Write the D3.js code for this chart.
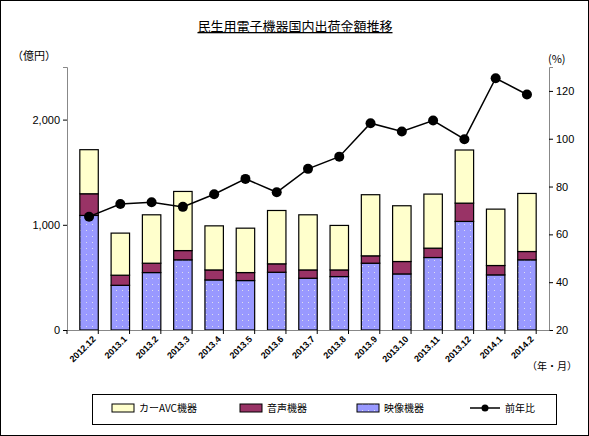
<!DOCTYPE html>
<html><head><meta charset="utf-8">
<script src="https://cdn.jsdelivr.net/npm/d3@7"></script>
<style>body{margin:0;background:#fff}svg{font-family:"Noto Sans CJK JP",sans-serif}</style>
</head><body><svg id="c" width="589" height="436"></svg>
<script>
var months = ["2012.12","2013.1","2013.2","2013.3","2013.4","2013.5","2013.6","2013.7","2013.8","2013.9","2013.10","2013.11","2013.12","2014.1","2014.2"];
var video = [1089,425,546,667,476,470,549,492,508,635,533,689,1032,524,667];
var audio = [206,96,89,88,95,76,80,79,63,70,118,89,174,89,79];
var carAvc = [419,400,460,562,419,422,507,524,423,581,530,514,505,536,552];
var yoy = [67.4,72.7,73.4,71.5,76.8,83.2,77.6,87.4,92.5,106.5,103,107.6,99.8,125.3,118.5];
var leftTicks = [0,1000,2000];
var rightTicks = [20,40,60,80,100,120];

var svg = d3.select("#c");
svg.append("rect").attr("x",0.5).attr("y",0.5).attr("width",588).attr("height",435).attr("fill","#fff").attr("stroke","#000");
var defs = svg.append("defs");
var pat = defs.append("pattern").attr("id","dots").attr("width",6).attr("height",6).attr("patternUnits","userSpaceOnUse");
pat.append("rect").attr("width",6).attr("height",6).attr("fill","#9999ff");
pat.append("rect").attr("x",2).attr("y",2).attr("width",1).attr("height",1).attr("fill","#dde");

var L = 67, R = 549, T = 67, B = 330;
var x = d3.scaleBand().domain(months).range([L,R]).padding(0.41);
var y = d3.scaleLinear().domain([0,2500]).range([B,T]);
var y2 = d3.scaleLinear().domain([20,130]).range([B,T]);

var series = [
  {name:"映像機器", vals:video, fill:"url(#dots)"},
  {name:"音声機器", vals:audio, fill:"#993366"},
  {name:"カーAVC機器", vals:carAvc, fill:"#ffffcc"}
];
months.forEach(function(m,i){
  var base = 0;
  series.forEach(function(s){
    var v = s.vals[i];
    svg.append("rect").attr("x",x(m)).attr("width",x.bandwidth())
      .attr("y",y(base+v)).attr("height",y(base)-y(base+v))
      .attr("fill",s.fill).attr("stroke","#000").attr("stroke-width",1.2);
    base += v;
  });
});

var ax = svg.append("g").attr("transform","translate("+L+",0)")
  .call(d3.axisLeft(y).tickValues(leftTicks).tickSize(4).tickFormat(d3.format(",")));
var ax2 = svg.append("g").attr("transform","translate("+R+",0)")
  .call(d3.axisRight(y2).tickValues(rightTicks).tickSize(4));
var axb = svg.append("g").attr("transform","translate(0,"+B+")")
  .call(d3.axisBottom(x).tickSize(0).tickPadding(6));
axb.selectAll("text").attr("transform","rotate(-45)").attr("text-anchor","end")
  .attr("dx","-0.2em").attr("dy","0.9em").attr("x",0).attr("y",4)
  .style("font-weight","bold").style("font-size","9px");
// category boundary ticks
var step = x.step();
d3.range(months.length+1).forEach(function(i){
  svg.append("line").attr("x1",L+i*step).attr("x2",L+i*step).attr("y1",B).attr("y2",B+4).attr("stroke","#000");
});
[ax,ax2,axb].forEach(function(a){ a.selectAll("path,line").attr("stroke","#000"); a.select(".domain").attr("stroke","#888"); });
ax.selectAll("text").style("font-size","11px");
ax2.selectAll("text").style("font-size","11px");

var line = d3.line().x(function(d,i){return x(months[i])+x.bandwidth()/2;}).y(function(d){return y2(d);});
svg.append("path").datum(yoy).attr("d",line).attr("fill","none").attr("stroke","#000").attr("stroke-width",1.5);
svg.selectAll("circle.p").data(yoy).enter().append("circle")
  .attr("cx",function(d,i){return x(months[i])+x.bandwidth()/2;}).attr("cy",function(d){return y2(d);})
  .attr("r",5).attr("fill","#000");

svg.append("text").attr("x",295).attr("y",31).attr("text-anchor","middle").style("font-size","13px")
  .style("text-decoration","underline").text("民生用電子機器国内出荷金額推移");
svg.append("text").attr("x",12).attr("y",60).style("font-size","11px").text("（億円）");
svg.append("text").attr("x",548).attr("y",63).style("font-size","11px").text("(%)");
svg.append("text").attr("x",527).attr("y",370).style("font-size","10px").text("（年・月）");

svg.append("rect").attr("x",92.5).attr("y",394.5).attr("width",464).attr("height",30).attr("fill","#fff").attr("stroke","#000");
var leg = [
  {name:"カーAVC機器", fill:"#ffffcc", x:112},
  {name:"音声機器", fill:"#993366", x:240},
  {name:"映像機器", fill:"url(#dots)", x:357}
];
leg.forEach(function(l){
  svg.append("rect").attr("x",l.x).attr("y",404).attr("width",22).attr("height",8).attr("fill",l.fill).attr("stroke","#000");
  svg.append("text").attr("x",l.x+27).attr("y",412).style("font-size","10px").text(l.name);
});
svg.append("line").attr("x1",470).attr("x2",500).attr("y1",408).attr("y2",408).attr("stroke","#000").attr("stroke-width",1.5);
svg.append("circle").attr("cx",485).attr("cy",408).attr("r",3.5).attr("fill","#000");
svg.append("text").attr("x",505).attr("y",412).style("font-size","10px").text("前年比");
</script></body></html>
